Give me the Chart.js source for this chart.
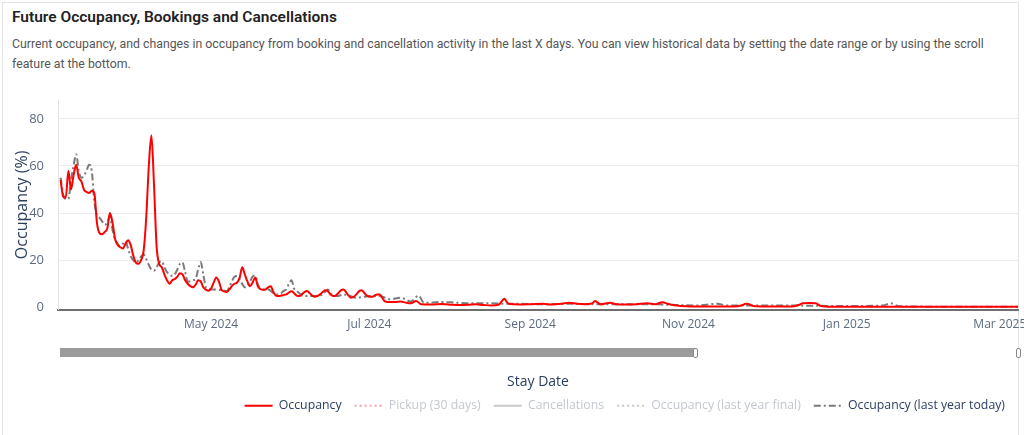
<!DOCTYPE html>
<html>
<head>
<meta charset="utf-8">
<script src="https://cdn.jsdelivr.net/npm/chart.js@4.4.1/dist/chart.umd.min.js"></script>
<style>
  html, body { margin: 0; padding: 0; background: #fff; }
  body { width: 1024px; height: 435px; position: relative; overflow: hidden; font-family: Roboto, 'Noto Sans', sans-serif; }
  .card { position: absolute; left: 2px; top: 2px; width: 1017px; height: 440px; border: 1px solid #e3e3e3; box-sizing: border-box; }
  h1 { position: absolute; left: 12px; top: 6px; margin: 0; font-size: 15.5px; line-height: 22px; font-weight: 600; color: #222; }
  p.sub { position: absolute; left: 12px; top: 34px; margin: 0; font-size: 12.3px; line-height: 20px; color: #555; white-space: nowrap; }
  #chartWrap { position: absolute; left: 0; top: 90px; width: 1024px; height: 345px; }
  .slider { position: absolute; left: 60px; top: 348px; width: 635px; height: 9px; background: #9b9b9b; }
  .handle { position: absolute; top: 348px; width: 3px; height: 8px; background: #fff; border: 1px solid #888; border-radius: 2px; }
</style>
</head>
<body>
<div class="card"></div>
<h1>Future Occupancy, Bookings and Cancellations</h1>
<p class="sub">Current occupancy, and changes in occupancy from booking and cancellation activity in the last X days. You can view historical data by setting the date range or by using the scroll<br>feature at the bottom.</p>
<div class="slider"></div>
<div class="handle" style="left:693px"></div>
<div class="handle" style="left:1016px"></div>
<div id="chartWrap"><canvas id="occChart"></canvas></div>
<script>
// day numbers are counted from 1 Mar 2024
const occDays = [3,4,5,6,7,8,9,10,11,12,13,14,15,16,17,18,19,20,21,22,23,24,25,26,27,28,29,30,31,32,33,34,35,36,37,38,39,40,41,42,43,44,45,46,47,48,49,50,51,52,53,54,55,56,57,58,59,60,61,62,63,64,65,66,67,68,69,70,71,72,73,74,75,76,77,78,79,80,81,82,83,84,85,86,87,88,89,90,91,92,93,94,95,96,97,98,99,100,101,102,103,104,105,106,107,108,109,110,111,112,113,114,115,116,117,118,119,120,121,122,123,124,125,126,127,128,129,
  132,134,136,138,140,142,146,150,154,157,160,163,166,169,172,173,174,175,176,180,184,189,192,196,199,202,205,208,209,210,211,215,217,221,225,229,232,235,237,239,242,246,250,255,260,264,266,267,268,270,275,280,285,288,289,292,294,296,300,310,320,330,340,350,360,372];
const occValues = [54,47,46.5,58,50,56,60.5,55,53.5,50,49,48.5,49.5,48.5,36,31.5,31,32,33.5,40,36,29,26.5,25.5,25,27,28.5,26.5,22,19,18.5,20,24,38,60,73,52,26,18.5,17,14,11.5,10,11.5,12,13,14.5,14,11.5,10,9,8.5,9.5,11.5,11,8.5,7.5,7,8,10.5,12.7,11,7.5,6.8,6.5,7.5,9,10,10.5,12.5,17,14,11,9,10.5,12.7,9,7.8,7.5,7.6,8.5,9,6.5,5,4.8,5,5.3,5.5,6.3,6.8,6,5,4.8,5.5,6.5,6.9,6,5,4.5,4.8,5.5,6.5,7.3,6.8,5.5,4.8,5,6,7.2,7.6,6.5,5,4.1,4.5,5.5,6.8,7.3,6.2,5,4.5,4.5,5,5.5,5.5,4,2.5,2.3,
  2.3,2.5,2,1.7,2.7,1.3,1.2,1.4,1.1,1,1.1,1.3,1,0.8,1.2,2.5,3.7,2.2,1.4,1.2,1.3,1.5,1.2,1.5,2,1.5,1.3,1.8,2.7,2,1.3,2,1.3,1.2,1.3,1.7,1.3,2.2,1.5,1,0.6,0.4,0.4,0.4,0.4,0.5,1,1.5,1.4,0.6,0.4,0.4,0.4,1.2,1.7,1.8,1.7,0.6,0.3,0.3,0.3,0.3,0.3,0.3,0.3,0.3];

const lyDays = [3,4,5,6,7,8,9,10,11,12,13,14,15,16,17,18,19,20,21,22,23,24,25,26,27,28,29,30,31,32,33,34,35,36,37,38,39,40,41,42,43,44,45,46,47,48,49,50,51,52,53,54,55,56,57,58,59,60,61,62,63,64,65,66,67,68,69,70,71,72,73,74,75,76,77,78,79,80,81,82,83,84,85,86,87,88,89,90,91,92,93,94,95,96,
  98,100,102,104,106,108,110,112,114,117,120,122,126,130,134,138,141,143,146,149,155,160,168,175,180,190,200,210,220,230,240,248,256,260,270,280,290,300,310,320,323,326,340,355,372];
const lyValues = [55,48,46,46,54,60,65,58,55,56,58,60.5,58,45,39,38,36.5,35,36,38.6,33,28.8,27,26,27,28,25,21.7,20,19,20,21.5,22.5,20.5,18,16,15.5,17,19,19.6,17,15,14,13.3,14,16,18.5,19,15,11,11,11.5,12,16,19.2,14,8.5,7.8,7.6,7.6,7.6,7.5,7.3,7,6.9,8.5,11,13,13.3,12,10,8.5,9,11,13,13.5,10,7.6,7.6,7.6,7.6,7,6,5.5,5.5,6,7,7.6,10,11.5,8,7,6,5,
  4.8,4.8,4.8,5.5,7.6,4.8,4.8,5.5,5,4.1,4.5,4.8,4.8,3.4,4.1,2.5,5,2,2,2.3,2,1.7,1.7,1.5,1.5,1.3,1.5,1.3,1.3,1.3,1,0.8,1.5,0.8,0.8,0.8,0.7,0.6,0.6,0.8,1.7,0.5,0.3,0.3,0.3];

const tickDays = [61, 122, 184, 245, 306, 365];
const tickLabels = ['May 2024', 'Jul 2024', 'Sep 2024', 'Nov 2024', 'Jan 2025', 'Mar 2025'];
const yTicks = [0, 20, 40, 60, 80];
const seriesNames = ['Occupancy', 'Pickup (30 days)', 'Cancellations', 'Occupancy (last year final)', 'Occupancy (last year today)'];

document.addEventListener('DOMContentLoaded', () => {
  Chart.defaults.font.family = "'Open Sans', sans-serif";

  const toPoints = (days, vals) => days.map((d, i) => ({ x: d, y: vals[i] }));
  const common = { pointRadius: 0, borderWidth: 2, cubicInterpolationMode: 'monotone', fill: false };

  // === Chart.js: Future occupancy ===
  new Chart(document.getElementById('occChart'), {
    type: 'line',
    data: {
      datasets: [
        { ...common, label: seriesNames[0], data: toPoints(occDays, occValues), borderColor: '#ff0000' },
        { ...common, label: seriesNames[1], data: [], borderColor: '#f7a1a1', borderDash: [2, 3], hidden: true },
        { ...common, label: seriesNames[2], data: [], borderColor: '#c9c9c9', hidden: true },
        { ...common, label: seriesNames[3], data: [], borderColor: '#c9c9c9', borderDash: [2, 3], hidden: true },
        { ...common, label: seriesNames[4], data: toPoints(lyDays, lyValues), borderColor: '#7a7a7a', borderDash: [7, 3, 2, 3] }
      ]
    },
    options: {
      responsive: true,
      maintainAspectRatio: false,
      animation: false,
      layout: { padding: { top: 10, right: 6, bottom: 13, left: 0 } },
      scales: {
        x: {
          type: 'linear',
          min: 2,
          max: 372,
          afterBuildTicks: s => { s.ticks = tickDays.map(v => ({ value: v })); },
          afterFit: s => { s.height = 77; s.paddingLeft = 0; s.paddingRight = 0; },
          ticks: {
            autoSkip: false, maxRotation: 0, padding: 8,
            color: '#5b6b80', font: { size: 12 },
            callback: v => tickLabels[tickDays.indexOf(v)]
          },
          grid: { display: false, drawTicks: false },
          border: { display: true, color: '#6e6e6e', width: 2 },
          title: { display: true, text: 'Stay Date', color: '#2a3f5f', font: { size: 14 }, padding: { top: 0, bottom: -4 } }
        },
        y: {
          min: -1,
          max: 88,
          afterBuildTicks: s => { s.ticks = yTicks.map(v => ({ value: v })); },
          afterFit: s => { s.width = 58; s.paddingTop = 0; s.paddingBottom = 0; },
          ticks: { padding: 14, color: '#5b6b80', font: { size: 13 } },
          grid: {
            drawTicks: false,
            color: c => (c.tick && c.tick.value === 0) ? 'rgba(0,0,0,0)' : '#ebebeb'
          },
          border: { display: true, color: '#e2e2e2' },
          title: { display: true, text: 'Occupancy (%)', color: '#2a3f5f', font: { size: 16 }, padding: { top: 13, bottom: 0 } }
        }
      },
      plugins: {
        tooltip: { enabled: false },
        legend: {
          position: 'bottom',
          align: 'end',
          labels: {
            usePointStyle: true,
            pointStyle: 'line',
            pointStyleWidth: 28,
            padding: 13,
            font: { size: 12.3 },
            color: '#2a3f5f',
            generateLabels: c => {
              const items = Chart.defaults.plugins.legend.labels.generateLabels(c);
              items.forEach(it => {
                const ds = c.data.datasets[it.datasetIndex];
                it.lineDash = ds.borderDash || [];
                it.strokeStyle = ds.borderColor;
                it.lineWidth = 2;
                if (it.hidden) { it.fontColor = '#c3c8d0'; it.hidden = false; }
                else { it.fontColor = '#2a3f5f'; }
              });
              return items;
            }
          }
        }
      }
    }
  });
});
</script>
</body>
</html>
